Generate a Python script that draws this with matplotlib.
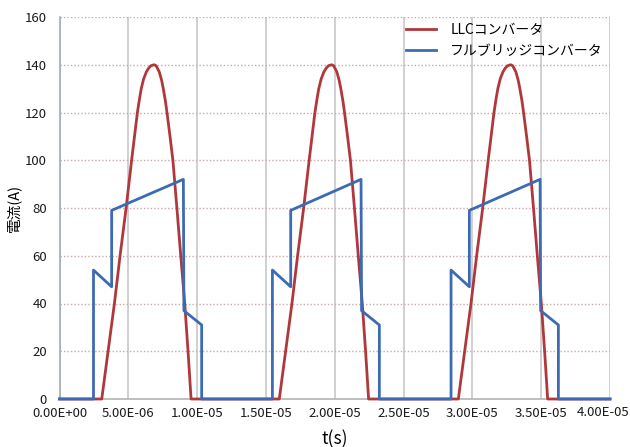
import matplotlib
matplotlib.use("Agg")
from matplotlib import pyplot as plt
from matplotlib.ticker import FuncFormatter, MultipleLocator
import numpy as np

plt.rcParams['font.family'] = ['Noto Sans CJK JP', 'DejaVu Sans']

# LLC resonant current: one pulse shape
# (time from pulse start in us, current in A), and the start of each pulse
llc_shape_t = [0.0, 0.46, 0.92, 1.33, 1.77, 2.17, 2.38, 2.59, 2.75, 2.87,
               3.04, 3.24, 3.41, 3.58, 3.80, 3.95, 4.18, 4.35, 4.47, 4.62,
               4.74, 4.96, 5.17, 5.46, 5.74, 6.03, 6.27, 6.49]
llc_shape_i = [0, 20, 40, 60, 80, 100, 110, 120, 126, 130,
               134, 137, 138.6, 139.6, 140, 139.6, 137, 133.5, 130, 125,
               120, 110, 100, 80, 60, 40, 20, 0]
llc_starts = [3.07, 15.97, 28.98]

# full bridge current: switching instants per pulse (us) and levels (A)
fb_on = [2.47, 15.47, 28.45]
fb_step = [3.79, 16.80, 29.78]
fb_peak = [9.00, 21.91, 34.92]
fb_off = [10.33, 23.24, 36.25]
fb_levels = [54, 47, 79, 92, 37, 31]

t_end = 40.0

# build the two series
llc_t = [0.0]
llc_i = [0]
for s in llc_starts:
    llc_t += [s + dt for dt in llc_shape_t]
    llc_i += llc_shape_i
llc_t.append(t_end)
llc_i.append(0)

fb_t = [0.0]
fb_i = [0]
for a, b, c, d in zip(fb_on, fb_step, fb_peak, fb_off):
    fb_t += [a, a, b, b, c, c + 0.04, d, d]
    fb_i += [0, fb_levels[0], fb_levels[1], fb_levels[2], fb_levels[3],
             fb_levels[4], fb_levels[5], 0]
fb_t.append(t_end)
fb_i.append(0)

fig = plt.figure(figsize=(6.3, 4.47), dpi=100)
ax = fig.add_axes([59.5 / 630, 48 / 447, 550.5 / 630, 382 / 447])

ax.plot(np.array(llc_t) * 1e-6, llc_i, color='#b0383c', lw=2.0,
        label='LLCコンバータ', clip_on=False, zorder=3,
        solid_joinstyle='round')
ax.plot(np.array(fb_t) * 1e-6, fb_i, color='#3d6bb3', lw=2.0,
        label='フルブリッジコンバータ', clip_on=False, zorder=4)

ax.set_xlim(0, t_end * 1e-6)
ax.set_ylim(0, 160)
ax.xaxis.set_major_locator(MultipleLocator(5e-6))
ax.yaxis.set_major_locator(MultipleLocator(20))


def fmt(v, p):
    # the last label is drawn separately so it stays inside the figure
    if abs(v - t_end * 1e-6) < 1e-9:
        return ''
    return f"{v:.2E}"


ax.xaxis.set_major_formatter(FuncFormatter(fmt))

ax.grid(axis='x', color='#c8c8c8', lw=1.2, ls='-')
ax.grid(axis='y', color='#c9aaaa', lw=1.0, ls=(0, (1, 1.5)))
ax.set_axisbelow(True)

for side in ['top', 'right']:
    ax.spines[side].set_visible(False)
ax.spines['left'].set_color('#a0aec0')
ax.spines['bottom'].set_color('#b4b4b4')
ax.spines['left'].set_linewidth(1.2)
ax.spines['bottom'].set_linewidth(1.2)

ax.tick_params(length=0, labelsize=9.5, colors='#1a1a1a')
ax.tick_params(axis='y', pad=9)
ax.tick_params(axis='x', pad=6)

fig.text(629 / 630, 1 - 406 / 447, f"{t_end * 1e-6:.2E}", ha='right',
         va='top', fontsize=9.5, color='#1a1a1a')

ax.set_xlabel('t(s)', fontsize=12.5, labelpad=7)
ax.set_ylabel('電流(A)', fontsize=10.5, labelpad=3)

ax.legend(loc='upper left', bbox_to_anchor=(396 / 630, 1 - 13 / 447),
          bbox_transform=fig.transFigure, frameon=False, fontsize=10,
          handlelength=2.2, handletextpad=1.0, labelspacing=0.5,
          borderpad=0.2)

fig.savefig('out.png', dpi=100)
